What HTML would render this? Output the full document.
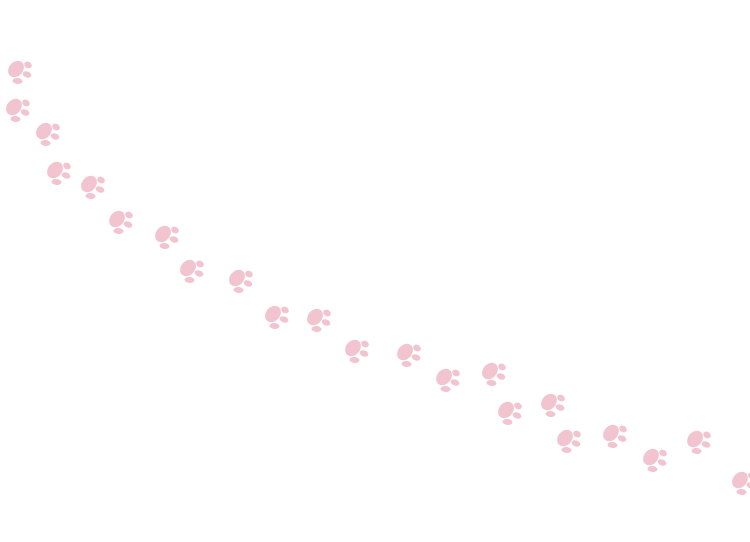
<!DOCTYPE html>
<html><head><style>html,body{margin:0;padding:0;background:#fff;width:750px;height:542px;overflow:hidden}</style></head>
<body>
<svg width="750" height="542" viewBox="0 0 750 542" xmlns="http://www.w3.org/2000/svg">
<defs>
<g id="p" fill="#f2c4cf">
<ellipse cx="0" cy="0" rx="9" ry="7" transform="rotate(-50)"/>
<ellipse cx="12" cy="-4" rx="4" ry="3.2" transform="rotate(30 12 -4)"/>
<ellipse cx="11" cy="5.5" rx="4.5" ry="3" transform="rotate(20 11 5.5)"/>
<ellipse cx="1.5" cy="12" rx="5" ry="3" transform="rotate(5 1.5 12)"/>
</g>
</defs>
<use href="#p" x="16" y="69"/>
<use href="#p" x="14" y="107"/>
<use href="#p" x="44" y="131"/>
<use href="#p" x="55" y="170"/>
<use href="#p" x="89" y="184"/>
<use href="#p" x="117" y="219"/>
<use href="#p" x="163" y="234"/>
<use href="#p" x="188" y="268"/>
<use href="#p" x="237" y="278"/>
<use href="#p" x="273" y="314"/>
<use href="#p" x="315" y="317"/>
<use href="#p" x="353" y="348"/>
<use href="#p" x="405" y="352"/>
<use href="#p" x="444" y="377"/>
<use href="#p" x="490" y="371"/>
<use href="#p" x="506" y="410"/>
<use href="#p" x="549" y="402"/>
<use href="#p" x="565" y="438"/>
<use href="#p" x="611" y="433"/>
<use href="#p" x="651" y="457"/>
<use href="#p" x="695" y="439"/>
<use href="#p" x="740" y="480"/>
</svg>
</body></html>
